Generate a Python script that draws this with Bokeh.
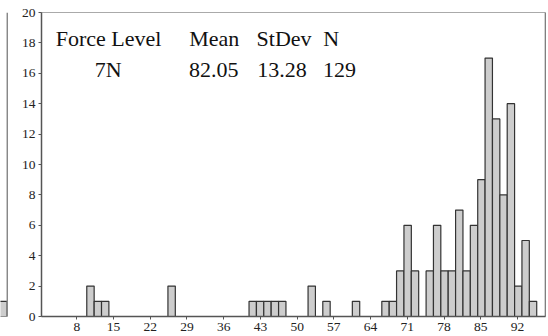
from bokeh.plotting import figure
from bokeh.layouts import row
from bokeh.models import Range1d, FixedTicker, Span
from bokeh.core.properties import value
from bokeh.embed import file_html
from bokeh.resources import INLINE

# Histogram data (bin left edges, counts)
bin_width = 1.406
bin_left = [9.90, 11.31, 12.71, 25.37, 40.83, 42.24, 43.64, 45.05, 46.46,
            52.08, 54.89, 60.52, 66.14, 67.55, 68.95, 70.36, 71.76, 74.58,
            75.98, 77.39, 78.79, 80.20, 81.61, 83.01, 84.42, 85.82, 87.23,
            88.64, 90.04, 91.45, 92.85, 94.26]
counts = [2, 1, 1, 2, 1, 1, 1, 1, 1,
          2, 1, 1, 1, 1, 3, 6, 3, 3,
          6, 3, 3, 7, 3, 6, 9, 17, 13,
          8, 14, 2, 5, 1]

x_ticks = [8, 15, 22, 29, 36, 43, 50, 57, 64, 71, 78, 85, 92]
y_ticks = [0, 2, 4, 6, 8, 10, 12, 14, 16, 18, 20]

header_labels = ["Force Level", "Mean", "StDev", "N"]
header_x = [14.05, 34.20, 47.51, 56.47]
value_labels = ["7N", "82.05", "13.28", "129"]
value_x = [14.0, 34.11, 47.13, 58.05]

# sliver of the neighbouring panel at the far left (its last bar)
left_panel_counts = [1]

X_START, X_END = 1.27, 97.34
FONT = "Liberation Serif"

# neighbouring panel sliver
q = figure(width=8, height=336, output_backend="svg", toolbar_location=None,
           x_range=Range1d(0, 8), y_range=Range1d(0, 20),
           x_axis_type=None, y_axis_type=None,
           min_border_left=0, min_border_right=0, min_border_top=10,
           min_border_bottom=20)
q.outline_line_color = None
q.xgrid.grid_line_color = None
q.ygrid.grid_line_color = None
q.quad(left=[-2], right=[6.6], top=left_panel_counts, bottom=0,
       fill_color="#cdcdcd", line_color="#333333", line_width=1.2)
q.add_layout(Span(location=6.8, dimension="height", line_color="#888888",
                  line_width=1.5))

p = figure(width=540, height=336, output_backend="svg", toolbar_location=None,
           x_range=Range1d(X_START, X_END), y_range=Range1d(0, 20),
           min_border_left=33, min_border_right=3, min_border_top=12,
           min_border_bottom=20)

p.background_fill_color = "white"
p.border_fill_color = "white"
p.outline_line_color = "#aaaaaa"
p.outline_line_width = 1
p.xgrid.grid_line_color = None
p.ygrid.grid_line_color = None

bin_right = [b + bin_width for b in bin_left]
p.quad(left=bin_left, right=bin_right, top=counts, bottom=0,
       fill_color="#cdcdcd", line_color="#333333", line_width=1.2)

for ax in (p.xaxis[0], p.yaxis[0]):
    ax.axis_line_color = "#555555"
    ax.axis_line_width = 1.5
    ax.major_tick_line_color = "#555555"
    ax.major_tick_in = 0
    ax.major_tick_out = 3
    ax.minor_tick_line_color = None
    ax.major_label_text_font = FONT
    ax.major_label_text_font_size = "13.5px"
    ax.major_label_text_color = "#222222"

p.xaxis[0].ticker = FixedTicker(ticks=x_ticks)
p.yaxis[0].ticker = FixedTicker(ticks=y_ticks)
p.xaxis[0].major_label_standoff = 3
p.yaxis[0].major_label_standoff = 3

p.add_layout(Span(location=X_END, dimension="height", line_color="#555555",
                  line_width=1.5))

p.text(x=header_x, y=[18.28] * 4, text=header_labels,
       text_font=value(FONT), text_font_size="22px", text_color="#111111",
       text_align="center", text_baseline="alphabetic")
p.text(x=value_x, y=[16.22] * 4, text=value_labels,
       text_font=value(FONT), text_font_size="22px", text_color="#111111",
       text_align="center", text_baseline="alphabetic")

layout = row(q, p)
open("out.html", "w").write(file_html(layout, INLINE))
